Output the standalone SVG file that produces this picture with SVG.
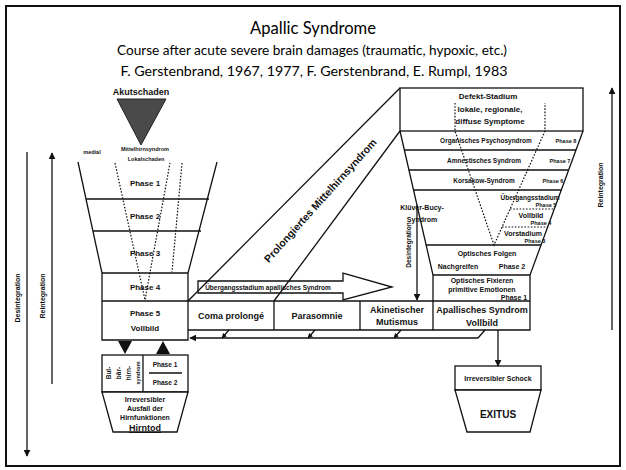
<svg xmlns="http://www.w3.org/2000/svg" width="626" height="470" viewBox="0 0 626 470">
<defs>
<style>
text{font-family:"Liberation Sans",Arial,sans-serif;font-weight:bold;fill:#111;text-anchor:middle}
.t{font-family:Lato,"Open Sans",sans-serif;font-weight:normal;fill:#000}
.ln{fill:none;stroke:#111;stroke-width:1.3}
.dot{fill:none;stroke:#111;stroke-width:1.2;stroke-dasharray:1.6 1.6}
.box{fill:#fff;stroke:#111;stroke-width:1.3}
.s5{font-size:5.5px}.s6{font-size:6.5px}.s7{font-size:7px}.s8{font-size:8px}.s9{font-size:9px}
</style>
<marker id="ah" viewBox="0 0 10 10" refX="9" refY="5" markerWidth="7" markerHeight="7" orient="auto" markerUnits="userSpaceOnUse">
<path d="M0,0 L10,5 L0,10 z" fill="#111"/>
</marker>
<marker id="ahs" viewBox="0 0 10 10" refX="9" refY="5" markerWidth="5" markerHeight="5" orient="auto" markerUnits="userSpaceOnUse">
<path d="M0,0 L10,5 L0,10 z" fill="#111"/>
</marker>
</defs>
<rect x="0" y="0" width="626" height="470" fill="#fff"/>
<rect x="6" y="6" width="614" height="460" fill="none" stroke="#111" stroke-width="2"/>

<g id="title">
<text class="t" x="313" y="34" font-size="17" textLength="126" lengthAdjust="spacingAndGlyphs">Apallic Syndrome</text>
<text class="t" x="312" y="55" font-size="13.5" textLength="390" lengthAdjust="spacingAndGlyphs">Course after acute severe brain damages (traumatic, hypoxic, etc.)</text>
<text class="t" x="314" y="76" font-size="13.5" textLength="387" lengthAdjust="spacingAndGlyphs">F. Gerstenbrand, 1967, 1977, F. Gerstenbrand, E. Rumpl, 1983</text>
</g>

<g id="axis-left">
<line class="ln" x1="27" y1="152" x2="27" y2="456" marker-end="url(#ah)"/>
<line class="ln" x1="52" y1="384" x2="52" y2="153" marker-end="url(#ah)"/>
<text class="s7" transform="translate(19.5,298) rotate(-90)">Desintegration</text>
<text class="s7" transform="translate(45,296) rotate(-90)">Reintegration</text>
</g>

<g id="akutschaden">
<text class="s9" x="141" y="95">Akutschaden</text>
<polygon points="117,99 166,99 141,145" fill="#4a4a4a" stroke="#222" stroke-width="1"/>
</g>

<g id="funnel-left">
<polyline class="ln" points="78,162 102,273 102,340 188,340 188,273 217,162"/>
<line class="ln" x1="86" y1="199" x2="209" y2="199"/>
<line class="ln" x1="93" y1="231" x2="201" y2="231"/>
<line class="ln" x1="102" y1="273" x2="188" y2="273"/>
<line class="ln" x1="102" y1="301" x2="188" y2="301"/>
<polyline class="dot" points="115,163 145,300 170,163"/>
<line class="dot" x1="182" y1="163" x2="172" y2="272"/>
<text class="s5" x="92" y="154">medial</text>
<text class="s5" x="145" y="151">Mittelhirnsyndrom</text>
<text class="s5" x="146" y="161">Lokalschaden</text>
<text class="s8" x="145" y="186">Phase 1</text>
<text class="s8" x="145" y="219">Phase 2</text>
<text class="s8" x="145" y="256">Phase 3</text>
<text class="s8" x="145" y="290">Phase 4</text>
<text class="s8" x="145" y="316">Phase 5</text>
<text class="s8" x="145" y="331">Vollbild</text>
</g>

<g id="hirntod">
<polygon points="118,341 132,341 125,354" fill="#111"/>
<polygon points="156,354 170,354 163,341" fill="#111"/>
<rect class="box" x="102" y="355" width="86" height="37"/>
<polygon class="box" points="102,392 188,392 177,432 113,432"/>
<line class="ln" x1="143" y1="355" x2="143" y2="392"/>
<line class="ln" x1="149" y1="373" x2="182" y2="373"/>
<text class="s6" transform="translate(111,373) rotate(-90)">Bul-</text>
<text class="s6" transform="translate(121,373) rotate(-90)">bär-</text>
<text class="s6" transform="translate(131,373) rotate(-90)">hirn-</text>
<text class="s5" transform="translate(140,373) rotate(-90)">syndrom</text>
<text class="s6" x="165" y="367">Phase 1</text>
<text class="s6" x="165" y="385">Phase 2</text>
<text class="s7" x="145" y="402">Irreversibler</text>
<text class="s7" x="145" y="411">Ausfall der</text>
<text class="s7" x="145" y="420">Hirnfunktionen</text>
<text class="s9" x="145" y="431" text-decoration="underline" font-weight="normal">Hirntod</text>
</g>

<g id="uebergang">
<polygon class="ln" points="198,281 343,281 343,273 392,287 343,300 343,293 198,293"/>
<text class="s6" x="268" y="290">Übergangsstadium apallisches Syndrom</text>
</g>

<g id="prolongiert">
<line class="ln" x1="188" y1="301" x2="400" y2="88"/>
<line class="ln" x1="274" y1="301" x2="400" y2="131"/>
<text font-size="10.5" transform="translate(323,203) rotate(-48)">Prolongiertes Mittelhirnsyndrom</text>
</g>

<g id="row">
<line class="ln" x1="188" y1="301" x2="433" y2="301"/>
<line class="ln" x1="188" y1="330" x2="433" y2="330"/>
<line class="ln" x1="274" y1="301" x2="274" y2="330"/>
<line class="ln" x1="360" y1="301" x2="360" y2="330"/>
<text class="s9" x="231" y="319">Coma prolongé</text>
<text class="s9" x="317" y="319">Parasomnie</text>
<text class="s9" x="397" y="313">Akinetischer</text>
<text class="s9" x="397" y="325">Mutismus</text>
</g>

<g id="desint-mid">
<line class="ln" x1="417" y1="205" x2="417" y2="300" marker-end="url(#ah)"/>
<text class="s6" transform="translate(411,245) rotate(-90)">Desintegration</text>
</g>

<g id="funnel-right">
<rect class="box" x="400" y="88" width="183" height="43"/>
<polyline class="ln" points="400,131 433,275 433,330 530,330 530,275 583,131"/>
<line class="ln" x1="404.4" y1="150" x2="576" y2="150"/>
<line class="ln" x1="408.9" y1="170" x2="568.6" y2="170"/>
<line class="ln" x1="413.5" y1="190" x2="561.3" y2="190"/>
<line class="ln" x1="426.1" y1="245" x2="541.1" y2="245"/>
<line class="ln" x1="433" y1="275" x2="530" y2="275"/>
<line class="ln" x1="433" y1="301" x2="530" y2="301"/>
<polyline class="dot" points="455,103 455,131 494,245 545,131 545,103"/>
<line class="dot" x1="510" y1="209" x2="554" y2="209"/>
<line class="dot" x1="502" y1="227" x2="548" y2="227"/>
<text class="s8" x="488" y="99">Defekt-Stadium</text>
<text class="s8" x="490" y="112">lokale, regionale,</text>
<text class="s8" x="490" y="124">diffuse Symptome</text>
<text class="s6" x="486" y="143">Organisches Psychosyndrom</text>
<text class="s5" x="566" y="143">Phase 8</text>
<text class="s6" x="484" y="163">Amnestisches Syndrom</text>
<text class="s5" x="560" y="163">Phase 7</text>
<text class="s6" x="484" y="183">Korsakow-Syndrom</text>
<text class="s5" x="553" y="183">Phase 6</text>
<text class="s7" x="422" y="210" text-anchor="start">Klüver-Bucy-</text>
<text class="s7" x="422" y="222" text-anchor="start">Syndrom</text>
<text class="s6" x="530" y="200">Übergangsstadium</text>
<text class="s5" x="546" y="207">Phase 5</text>
<text class="s7" x="531" y="218">Vollbild</text>
<text class="s5" x="541" y="225">Phase 4</text>
<text class="s7" x="523" y="236">Vorstadium</text>
<text class="s5" x="535" y="243">Phase 3</text>
<text class="s7" x="487" y="256">Optisches Folgen</text>
<text class="s7" x="458" y="269">Nachgreifen</text>
<text class="s7" x="512" y="269">Phase 2</text>
<text class="s7" x="482" y="283">Optisches Fixieren</text>
<text class="s7" x="482" y="292">primitive Emotionen</text>
<text class="s7" x="514" y="300">Phase 1</text>
<text class="s9" x="482" y="313">Apallisches Syndrom</text>
<text class="s9" x="482" y="326">Vollbild</text>
</g>

<g id="axis-right">
<line class="ln" x1="612" y1="330" x2="612" y2="88" marker-end="url(#ah)"/>
<text class="s7" transform="translate(603,185) rotate(-90)">Reintegration</text>
</g>

<g id="exitus">
<rect class="box" x="455" y="366" width="86" height="24"/>
<polygon class="box" points="455,390 541,390 530,432 467,432"/>
<text class="s7" x="498" y="381">Irreversibler Schock</text>
<text font-size="10" x="498" y="418">EXITUS</text>
</g>

<g id="connectors">
<line class="ln" x1="478" y1="338" x2="190" y2="338" marker-end="url(#ah)"/>
<line class="ln" x1="229" y1="330" x2="222" y2="338" marker-end="url(#ahs)"/>
<line class="ln" x1="315" y1="330" x2="308" y2="338" marker-end="url(#ahs)"/>
<line class="ln" x1="401" y1="330" x2="394" y2="338" marker-end="url(#ahs)"/>
<line class="ln" x1="485" y1="330" x2="478" y2="338"/>
<line class="ln" x1="498" y1="330" x2="498" y2="366" marker-end="url(#ah)"/>
</g>
</svg>
